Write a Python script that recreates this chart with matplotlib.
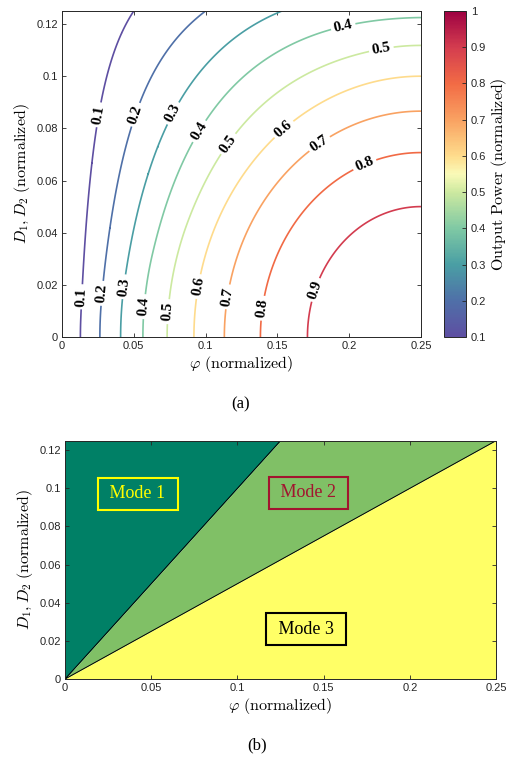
import matplotlib.pyplot as plt
import numpy as np
from matplotlib import cm, colors

plt.rcParams['font.family'] = ['Liberation Sans', 'DejaVu Sans']
plt.rcParams['mathtext.fontset'] = 'cm'

# output power per mode: P = a*phi + b*phi^2 + c*phi*D + d*D^2
coef_phi = [8.0, 8.0, 8.0]
coef_phi2 = [0.0, -8.0, -16.0]
coef_phiD = [-48.0, -32.0, 0.0]
coef_D2 = [0.0, -8.0, -40.0]
# mode borders: D = slope * phi
boundary_slopes = [1.0, 0.5]

mode_names = [' Mode 1 ', ' Mode 2 ', ' Mode 3 ']
mode_text_colors = ['#ffff00', '#a2142f', 'black']
mode_label_pos = [(0.0422, 0.0972), (0.1413, 0.0976), (0.1398, 0.0262)]

levels = [0.1, 0.2, 0.3, 0.4, 0.5, 0.6, 0.7, 0.8, 0.9]
cbar_ticks = [0.1, 0.2, 0.3, 0.4, 0.5, 0.6, 0.7, 0.8, 0.9, 1.0]
cbar_ticklabels = ['0.1', '0.2', '0.3', '0.4', '0.5', '0.6', '0.7', '0.8', '0.9', '1']
# colour map anchors
cmap_values = [0.1, 0.2, 0.3, 0.4, 0.5, 0.55, 0.6, 0.7, 0.8, 0.9, 1.0]
cmap_colors = ['#5e4fa2', '#4f70a8', '#4a9fa4', '#80c9a4', '#cde9a0', '#fafab8',
               '#fedc8c', '#f9a262', '#f26b45', '#d43d4f', '#9e0142']
phi_ticks = [0, 0.05, 0.1, 0.15, 0.2, 0.25]
phi_ticklabels = ['0', '0.05', '0.1', '0.15', '0.2', '0.25']
D_ticks = [0, 0.02, 0.04, 0.06, 0.08, 0.1, 0.12]
D_ticklabels = ['0', '0.02', '0.04', '0.06', '0.08', '0.1', '0.12']

# where the contour labels sit (phi, D)
clabel_pos = [(0.0144, 0.0154), (0.0288, 0.0167), (0.0427, 0.0193), (0.0583, 0.0116),
              (0.0745, 0.0097), (0.0954, 0.0193), (0.1154, 0.0154), (0.1402, 0.0110),
              (0.1769, 0.0180),
              (0.0265, 0.0851), (0.0520, 0.0851), (0.0775, 0.0857), (0.0961, 0.0787),
              (0.1154, 0.0742), (0.1541, 0.0799), (0.1792, 0.0742), (0.2105, 0.0665),
              (0.1959, 0.1189), (0.2226, 0.1097)]

phi_max, D_max = 0.25, 0.125
phi = np.linspace(0, phi_max, 601)
D = np.linspace(0, D_max, 301)
PHI, DD = np.meshgrid(phi, D)

mode = np.where(DD >= boundary_slopes[0] * PHI, 0,
                np.where(DD >= boundary_slopes[1] * PHI, 1, 2))
a = np.array(coef_phi)[mode]
b = np.array(coef_phi2)[mode]
c = np.array(coef_phiD)[mode]
d = np.array(coef_D2)[mode]
P = a * PHI + b * PHI**2 + c * PHI * DD + d * DD**2

fig = plt.figure(figsize=(5.08, 7.58), dpi=100)
ax1 = fig.add_axes([0.122, 0.5554, 0.7067, 0.4301])
cax = fig.add_axes([0.874, 0.5554, 0.0433, 0.4301])
ax2 = fig.add_axes([0.128, 0.1042, 0.8484, 0.3144])

dark = '#262626'


def style_axes(ax):
    ax.set_xlim(0, phi_max)
    ax.set_ylim(0, D_max)
    ax.set_xticks(phi_ticks)
    ax.set_xticklabels(phi_ticklabels)
    ax.set_yticks(D_ticks)
    ax.set_yticklabels(D_ticklabels)
    ax.tick_params(direction='in', top=True, right=True, length=3, width=0.6,
                   labelsize=8, colors=dark, pad=3)
    for s in ax.spines.values():
        s.set_color(dark)
        s.set_linewidth(0.7)
    ax.set_xlabel(r'$\varphi\ \mathrm{(normalized)}$', fontsize=11.5, labelpad=2)
    ax.set_ylabel(r'$D_1, D_2\ \mathrm{(normalized)}$', fontsize=11.5, labelpad=3)


# (a) output power contours
lo, hi = cmap_values[0], cmap_values[-1]
cmap = colors.LinearSegmentedColormap.from_list(
    'power', [((v - lo) / (hi - lo), col) for v, col in zip(cmap_values, cmap_colors)])
norm = colors.Normalize(vmin=lo, vmax=hi)
cs = ax1.contour(PHI, DD, P, levels=levels, cmap=cmap, norm=norm, linewidths=1.2)
with plt.rc_context({'font.family': 'Liberation Serif', 'font.weight': 'bold'}):
    ax1.clabel(cs, manual=clabel_pos, inline=True, fmt='%.1f', fontsize=11,
               colors='black', inline_spacing=3)
style_axes(ax1)

cb = fig.colorbar(cm.ScalarMappable(norm=norm, cmap=cmap), cax=cax)
cb.set_ticks(cbar_ticks)
cb.set_ticklabels(cbar_ticklabels)
cb.ax.tick_params(direction='in', length=3, width=0.6, labelsize=8, colors=dark)
cb.outline.set_edgecolor(dark)
cb.outline.set_linewidth(0.7)
cb.set_label(r'$\mathrm{Output\ Power\ (normalized)}$', fontsize=11.5, labelpad=2)

# (b) operating modes
fill_colors = plt.get_cmap('summer')([0.0, 0.5, 1.0])
line1 = np.minimum(boundary_slopes[0] * phi, D_max)
line2 = np.minimum(boundary_slopes[1] * phi, D_max)
ax2.fill_between(phi, line1, D_max, color=fill_colors[0], lw=0)
ax2.fill_between(phi, line2, line1, color=fill_colors[1], lw=0)
ax2.fill_between(phi, 0, line2, color=fill_colors[2], lw=0)
for s in boundary_slopes:
    m = s * phi <= D_max
    ax2.plot(phi[m], s * phi[m], color='black', lw=0.7)

for name, col, (x, y) in zip(mode_names, mode_text_colors, mode_label_pos):
    ax2.text(x, y, name, ha='center', va='center', color=col, fontsize=13,
             family='Liberation Serif',
             bbox=dict(boxstyle='square,pad=0.42', fc='none', ec=col, lw=1.5))
style_axes(ax2)

fig.text(241 / 508, 1 - 404 / 758, '(a)', ha='center', va='center', fontsize=12,
         family='Liberation Serif')
fig.text(257 / 508, 1 - 745 / 758, '(b)', ha='center', va='center', fontsize=12,
         family='Liberation Serif')

fig.savefig('out.png', dpi=100)
